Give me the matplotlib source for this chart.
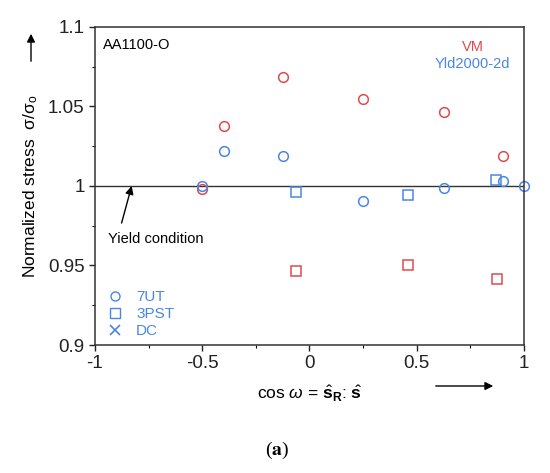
import matplotlib
matplotlib.use('Agg')
import matplotlib.pyplot as plt
from matplotlib.lines import Line2D
from matplotlib.patches import FancyArrowPatch
from matplotlib.ticker import MultipleLocator

plt.rcParams['font.family'] = ['Liberation Sans', 'DejaVu Sans']
plt.rcParams['mathtext.fontset'] = 'custom'
plt.rcParams['mathtext.rm'] = 'Liberation Sans'
plt.rcParams['mathtext.it'] = 'Liberation Sans:italic'
plt.rcParams['mathtext.bf'] = 'Liberation Sans:bold'

# 7UT points (circles)
ut_x = [-0.5, -0.4, -0.122, 0.251, 0.626, 0.90]
ut_vm = [0.998, 1.038, 1.0687, 1.0547, 1.0468, 1.019]
ut_x_yld = [-0.5, -0.4, -0.122, 0.251, 0.626, 0.90, 1.0]
ut_yld = [1.0, 1.0223, 1.0186, 0.9906, 0.999, 1.0029, 1.0]

# 3PST points (squares)
pst_x_vm = [-0.063, 0.460, 0.872]
pst_vm = [0.9465, 0.9502, 0.9413]
pst_x_yld = [-0.063, 0.460, 0.868]
pst_yld = [0.996, 0.9946, 1.0035]

xticks = [-1, -0.5, 0, 0.5, 1]
xtick_labels = ['-1', '-0.5', '0', '0.5', '1']
yticks = [0.9, 0.95, 1.0, 1.05, 1.1]
ytick_labels = ['0.9', '0.95', '1', '1.05', '1.1']

red = '#df4a4f'
blue = '#4a86e6'

fig = plt.figure(figsize=(5.5, 4.73), dpi=100)
ax = fig.add_axes([0.1727, 0.2706, 0.78, 0.6724])

ax.axhline(1.0, color='#333333', lw=1.0, zorder=1)

ms = 7
ax.plot(ut_x, ut_vm, 'o', ms=ms, mfc='none', mec=red, mew=1.1, clip_on=False)
ax.plot(ut_x_yld, ut_yld, 'o', ms=ms, mfc='none', mec=blue, mew=1.1, clip_on=False)
ax.plot(pst_x_vm, pst_vm, 's', ms=ms, mfc='none', mec=red, mew=1.1, clip_on=False)
ax.plot(pst_x_yld, pst_yld, 's', ms=ms, mfc='none', mec=blue, mew=1.1, clip_on=False)

ax.set_xlim(-1, 1)
ax.set_ylim(0.9, 1.1)
ax.set_xticks(xticks)
ax.set_xticklabels(xtick_labels)
ax.set_yticks(yticks)
ax.set_yticklabels(ytick_labels)
ax.xaxis.set_minor_locator(MultipleLocator(0.25))
ax.yaxis.set_minor_locator(MultipleLocator(0.025))
ax.tick_params(which='major', direction='out', length=4, width=1, labelsize=13.5, colors='#222222')
ax.tick_params(which='minor', direction='out', length=2, width=0.8)
for s in ax.spines.values():
    s.set_linewidth(1.1)
    s.set_color('#333333')

ax.set_ylabel('Normalized stress  σ/σ$_{\\mathrm{o}}$', fontsize=12.5, labelpad=6)
ax.set_xlabel(r'cos $\omega$ = $\hat{\mathbf{s}}_{\mathbf{R}}$: $\hat{\mathbf{s}}$', fontsize=12.5, labelpad=8)

ax.text(0.018, 0.965, 'AA1100-O', transform=ax.transAxes, fontsize=10.5, va='top', ha='left')
ax.text(0.88, 0.96, 'VM', transform=ax.transAxes, fontsize=10.5, color=red, ha='center', va='top')
ax.text(0.88, 0.905, 'Yld2000-2d', transform=ax.transAxes, fontsize=10.5, color=blue, ha='center', va='top')

ax.annotate('', xy=(-0.829, 1.0), xytext=(-0.876, 0.9767),
            arrowprops=dict(arrowstyle='-|>', color='black', lw=1, mutation_scale=12,
                            shrinkA=0, shrinkB=0))
ax.text(-0.94, 0.9665, 'Yield condition', fontsize=10.5, ha='left', va='center')

handles = [Line2D([], [], ls='none', marker='o', ms=6.5, mfc='none', mec=blue, mew=1),
           Line2D([], [], ls='none', marker='s', ms=6.5, mfc='none', mec=blue, mew=1),
           Line2D([], [], ls='none', marker='x', ms=6.5, mec=blue, mew=1.2)]
ax.legend(handles, ['7UT', '3PST', 'DC'], loc='lower left', frameon=False,
          labelcolor=blue, fontsize=11, handlelength=1, handletextpad=0.9,
          labelspacing=0.2, borderaxespad=0.05, bbox_to_anchor=(0.012, 0.0))

# direction arrows outside the axes
ann_kw = dict(arrowstyle='-|>', color='black', lw=1, mutation_scale=12)
fig.add_artist(FancyArrowPatch((31 / 550, 1 - 64 / 473), (31 / 550, 1 - 31 / 473),
                               transform=fig.transFigure, **ann_kw))
fig.add_artist(FancyArrowPatch((433 / 550, 1 - 386 / 473), (496 / 550, 1 - 386 / 473),
                               transform=fig.transFigure, **ann_kw))

fig.text(277 / 550, 1 - 450 / 473, r'($\mathbf{a}$)', fontsize=14, ha='center', va='center',
         family='Liberation Serif', math_fontfamily='stix')

fig.savefig('out.png', dpi=100)
